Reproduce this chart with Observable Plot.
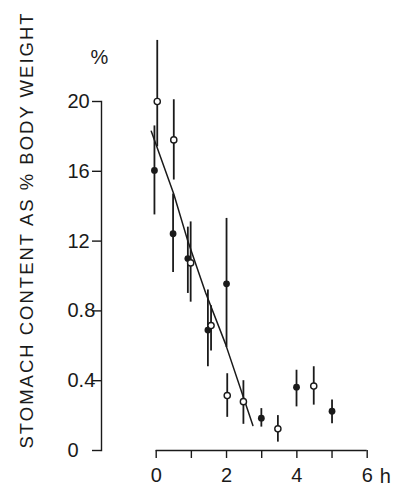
<!DOCTYPE html>
<html>
<head>
<meta charset="utf-8">
<script src="https://cdn.jsdelivr.net/npm/d3@7"></script>
<script src="https://cdn.jsdelivr.net/npm/@observablehq/plot@0.6"></script>
<style>
  html, body { margin: 0; padding: 0; background: #fff; }
  #chart svg { display: block; }
</style>
</head>
<body>
<div id="chart"></div>
<script>
// Filled circles (hours, % body weight, error bar low/high)
const filledX  = [-0.05, 0.48, 0.90, 1.47, 2.00, 2.99, 3.99, 5.00];
const filledY  = [1.605, 1.242, 1.100, 0.690, 0.955, 0.185, 0.363, 0.225];
const filledLo = [1.35, 1.02, 0.90, 0.48, 0.59, 0.134, 0.25, 0.153];
const filledHi = [1.86, 1.47, 1.28, 0.92, 1.33, 0.24, 0.46, 0.29];

// Open circles
const openX  = [0.03, 0.50, 0.98, 1.56, 2.02, 2.48, 3.46, 4.48];
const openY  = [2.00, 1.78, 1.075, 0.716, 0.315, 0.28, 0.124, 0.369];
const openLo = [1.74, 1.55, 0.85, 0.57, 0.19, 0.15, 0.048, 0.26];
const openHi = [2.35, 2.01, 1.31, 0.83, 0.44, 0.40, 0.20, 0.48];

// Fitted line
const fitX = [-0.14, 0.50, 0.90, 1.40, 1.97, 2.75];
const fitY = [1.83, 1.47, 1.20, 0.907, 0.611, 0.143];

const yTicks = [0, 0.4, 0.8, 1.2, 1.6, 2.0];
const yTickLabels = ["0", "0.4", "0.8", "12", "16", "20"];
const xTicks = [0, 1, 2, 3, 4, 5, 6];
const xTickLabels = ["0", "", "2", "", "4", "", "6"];

const filled = filledX.map((x, i) => ({x, y: filledY[i], lo: filledLo[i], hi: filledHi[i]}));
const open = openX.map((x, i) => ({x, y: openY[i], lo: openLo[i], hi: openHi[i]}));
const fit = fitX.map((x, i) => ({x, y: fitY[i]}));

const ink = "#1a1a1a";
const chart = Plot.plot({
  width: 396,
  height: 488,
  marginLeft: 101,
  marginRight: 29,
  marginTop: 101,
  marginBottom: 38,
  style: {background: "#fff", fontFamily: "Liberation Sans, Arial, sans-serif", color: ink},
  x: {domain: [0, 6], range: [155.7, 366.7]},
  y: {domain: [0, 2]},
  marks: [
    Plot.frame({anchor: "left", stroke: ink, strokeWidth: 1.4}),
    Plot.axisY({
      ticks: yTicks,
      tickFormat: d => yTickLabels[yTicks.indexOf(d)],
      tickSize: 9,
      tickPadding: 25,
      textAnchor: "start",
      fontSize: 20,
      strokeWidth: 1.4,
      label: null
    }),
    Plot.axisX({
      ticks: xTicks,
      tickFormat: d => xTickLabels[xTicks.indexOf(d)],
      tickSize: 8,
      tickPadding: 9,
      fontSize: 20,
      strokeWidth: 1.4,
      label: null
    }),
    Plot.ruleY([0], {x1: 0, x2: 6, stroke: ink, strokeWidth: 1.4}),
    Plot.text(["%"], {frameAnchor: "top-left", dx: -2, dy: -44, fontSize: 20, textAnchor: "middle", lineAnchor: "middle", fill: ink}),
    Plot.text(["STOMACH CONTENT AS % BODY WEIGHT"], {frameAnchor: "left", dx: -74, dy: -46, rotate: -90, fontSize: 18.5, textAnchor: "middle", lineAnchor: "middle", fill: ink}),
    Plot.text(["h"], {x: [6], y: [0], dx: 18, dy: 26, fontSize: 20, lineAnchor: "middle", fill: ink}),
    Plot.ruleX(filled, {x: "x", y1: "lo", y2: "hi", stroke: ink, strokeWidth: 1.8}),
    Plot.ruleX(open, {x: "x", y1: "lo", y2: "hi", stroke: ink, strokeWidth: 1.8}),
    Plot.line(fit, {x: "x", y: "y", stroke: ink, strokeWidth: 1.5}),
    Plot.dot(filled, {x: "x", y: "y", r: 3.4, fill: ink, stroke: "none"}),
    Plot.dot(open, {x: "x", y: "y", r: 3.1, fill: "#fff", stroke: ink, strokeWidth: 1.4})
  ]
});
d3.select(chart).selectAll("text")
  .filter(function () { return this.textContent.startsWith("STOMACH"); })
  .style("letter-spacing", "2px");
document.getElementById("chart").appendChild(chart);
</script>
</body>
</html>
